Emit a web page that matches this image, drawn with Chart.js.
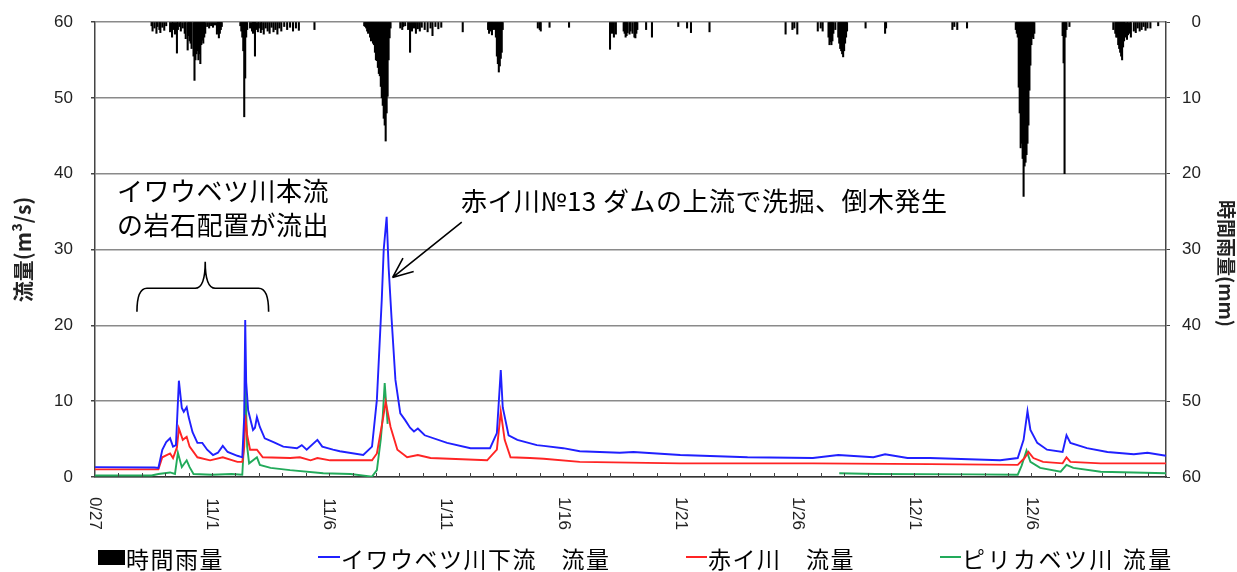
<!DOCTYPE html>
<html><head><meta charset="utf-8">
<script src="https://cdn.jsdelivr.net/npm/chart.js@4.4.1/dist/chart.umd.min.js"></script>
<style>
html,body{margin:0;padding:0;background:#fff;}
#wrap{position:relative;width:1237px;height:572px;overflow:hidden;font-family:"Noto Sans CJK JP","Noto Sans",sans-serif;color:#000;}
#c{position:absolute;left:0;top:0;}
.note{position:absolute;font-size:26px;line-height:34px;white-space:nowrap;letter-spacing:0.5px;}
.leg{position:absolute;top:543px;font-size:23px;line-height:30px;white-space:nowrap;letter-spacing:1.5px;}
.mk{position:absolute;}
</style></head>
<body>
<div id="wrap">
  <canvas id="c" width="1237" height="572"></canvas>
  <div class="note" style="left:117px;top:173px">イワウベツ川本流<br>の岩石配置が流出</div>
  <div class="note" style="left:461px;top:183px">赤イ川№13 ダムの上流で洗掘、倒木発生</div>
  <div class="mk" style="left:98px;top:550px;width:27px;height:15px;background:#000"></div>
  <div class="leg" style="left:126px">時間雨量</div>
  <div class="mk" style="left:318px;top:556px;width:22px;height:2px;background:#2020ff"></div>
  <div class="leg" style="left:341px">イワウベツ川下流　流量</div>
  <div class="mk" style="left:686px;top:556px;width:21px;height:2px;background:#ff2424"></div>
  <div class="leg" style="left:708px">赤イ川　流量</div>
  <div class="mk" style="left:940px;top:556px;width:21px;height:2px;background:#22aa5a"></div>
  <div class="leg" style="left:962px;letter-spacing:2.5px">ピリカベツ川 流量</div>
</div>
<script>
// time axis: hours since 10/27 0:00
const xMaxHour = 1098;
const labelHours = [0,120,240,360,480,600,720,840,960];
const xLabels = ['0/27','11/1','11/6','1/11','1/16','1/21','1/26','12/1','12/6'];

// イワウベツ川下流 流量 (m3/s)
const blueHours = [0,61,65,69,73,77,80,83,86,89,91,94,96,100,105,110,115,121,126,131,136,146,151,153,154,155,157,162,164,166,169,174,183,193,207,212,217,228,233,244,251,275,284,289,294,296,299,301,304,308,313,318,323,327,331,338,361,385,405,412,416,418,424,433,453,460,480,497,538,552,600,669,736,762,798,810,833,856,928,946,952,956,959,966,976,992,996,1000,1017,1038,1065,1079,1098];
const blueFlow  = [1.3,1.25,1.2,3.6,4.6,5.1,4.0,4.2,12.7,9.1,8.6,9.2,7.9,5.9,4.5,4.5,3.6,2.9,3.2,4.1,3.3,2.8,2.6,8.0,20.7,12.5,8.8,6.2,6.5,7.9,6.6,5.1,4.6,4.0,3.8,4.2,3.6,4.9,4.0,3.6,3.4,2.9,4.0,10.2,23.4,30.0,34.3,27.7,21.0,12.8,8.4,7.5,6.5,6.0,6.4,5.5,4.5,3.8,3.8,5.8,14.1,9.2,5.5,4.9,4.2,4.1,3.8,3.4,3.2,3.3,2.9,2.6,2.5,2.9,2.6,3.0,2.5,2.5,2.2,2.5,4.9,8.7,6.2,4.5,3.6,3.3,5.5,4.5,3.8,3.3,3.0,3.2,2.8];

// 赤イ川 流量
const redHours = [0,65,69,77,80,84,86,90,94,97,105,118,131,146,151,153,154,156,159,166,172,200,210,221,228,241,284,289,295,298,303,310,320,331,344,402,412,416,420,426,446,460,497,600,736,856,946,953,957,962,972,992,996,1000,1031,1098];
const redFlow  = [1.0,1.0,2.6,3.1,2.5,3.9,6.4,4.9,5.3,4.0,2.6,2.2,2.6,2.0,2.0,4.0,8.2,5.5,3.6,3.6,2.6,2.5,2.6,2.2,2.5,2.2,2.2,3.1,7.5,9.9,6.6,3.6,2.6,2.9,2.5,2.2,3.6,8.6,4.9,2.6,2.5,2.4,2.0,1.8,1.8,1.7,1.6,2.5,3.3,2.5,2.0,1.8,2.6,2.0,1.8,1.8];

// ピリカベツ川 流量 (null = no record)
const greenHours = [0,58,65,77,82,85,89,94,97,101,120,140,151,153,154,156,158,166,169,180,200,234,262,284,289,293,295,297,300,301,763,800,900,946,950,955,959,969,990,996,1003,1031,1098];
const greenFlow  = [0.2,0.2,0.4,0.6,0.4,3.2,1.3,2.2,1.3,0.4,0.3,0.4,0.3,5.0,13.2,4.0,1.8,2.6,1.6,1.2,0.9,0.5,0.4,0.05,0.9,5.0,8.0,12.4,7.0,null,0.5,0.4,0.35,0.3,1.5,3.5,2.0,1.2,0.7,1.6,1.2,0.7,0.5];

// 時間雨量 (mm)
const rainHours = [58,59,61,63,64,66,67,69,71,73,77,79,80,82,84,85,87,88,90,92,93,95,96,97,98,99,101,102,103,104,105,106,107,108,109,110,111,112,113,115,117,119,121,123,125,126,127,128,129,130,
  149,150,151,152,153,154,155,156,159,161,162,163,164,165,167,168,170,171,173,175,177,179,181,183,185,187,189,191,194,197,200,203,206,209,225,
  276,277,278,279,280,281,282,283,284,285,286,287,288,289,290,291,292,293,294,295,296,297,298,299,300,301,302,303,
  313,315,316,318,321,323,325,327,329,331,333,335,338,341,344,346,349,352,355,377,
  403,404,405,406,407,408,409,410,411,412,413,414,415,416,417,418,454,456,457,466,486,
  528,530,532,534,542,543,544,545,546,548,549,551,553,554,555,556,565,571,598,607,611,630,
  708,715,717,720,741,744,746,752,753,754,755,756,757,759,762,763,764,765,766,767,768,769,770,771,790,810,811,879,881,884,894,
  944,945,946,947,948,949,950,951,952,953,954,955,956,957,958,959,960,961,962,963,992,993,994,995,996,999,
  1044,1046,1047,1048,1049,1050,1051,1052,1053,1054,1055,1056,1058,1059,1061,1062,1065,1067,1069,1071,1073,1075,1077,1079,1082,1090];
const rainMm = [0.5,1.2,0.8,1.5,0.6,1.0,1.4,0.7,1.1,0.5,1.3,2.0,1.0,1.6,4.1,1.0,0.6,1.2,0.8,1.5,2.2,3.7,1.8,2.5,2.8,3.5,4.5,7.7,5.0,4.2,3.8,5.0,4.2,5.5,3.0,2.4,2.8,2.0,1.5,0.6,0.8,0.5,0.7,0.4,1.6,1.2,2.1,1.5,1.0,0.6,
  0.5,1.2,2.0,3.8,12.5,7.4,2.0,1.0,0.8,1.2,1.5,1.0,4.5,1.0,1.3,0.8,1.4,1.0,1.6,0.8,1.2,1.5,0.7,1.3,1.0,1.6,0.8,1.2,0.6,1.0,0.7,1.2,0.8,1.1,1.0,
  0.5,0.6,0.8,1.2,1.5,1.0,2.0,2.5,1.8,2.8,3.0,4.0,5.0,5.1,6.0,6.8,7.1,8.5,10.0,11.0,12.7,13.6,15.7,12.0,9.8,5.0,2.1,0.8,
  0.8,1.0,0.6,0.5,1.0,4.0,1.2,0.8,1.5,0.9,1.2,0.7,1.0,1.3,0.8,1.8,0.6,0.9,0.7,1.3,
  1.0,1.5,1.2,0.8,1.7,0.5,1.0,0.8,2.0,4.5,5.5,6.6,5.8,4.8,4.0,1.0,0.8,1.0,1.2,0.7,0.7,
  3.6,1.5,2.0,1.6,1.2,1.5,2.0,1.8,1.4,1.6,1.2,1.5,2.0,2.1,1.5,1.0,1.0,2.0,0.6,0.8,1.4,1.3,
  1.6,1.0,0.8,1.6,1.2,0.8,1.2,2.0,3.0,2.6,3.0,2.5,1.5,1.0,2.0,2.8,3.5,3.8,4.2,4.6,3.8,2.8,2.0,1.2,0.8,1.5,0.8,1.0,0.6,1.0,0.8,
  1.0,1.5,2.0,8.6,12.0,16.6,16.0,18.0,23.0,19.0,18.5,17.5,16.0,13.6,9.0,5.7,3.0,2.0,2.2,1.5,1.8,5.4,20.0,2.0,1.0,0.6,
  1.0,1.5,2.0,2.0,3.0,3.5,4.0,4.5,5.0,3.3,2.5,2.0,2.3,1.7,1.5,2.0,1.2,1.4,0.8,1.2,1.0,0.6,1.1,0.8,0.8,0.5];

// annotation anchors in data units (hour, m3/s)
const brace = {from:43, to:178, tip:113, low:21.8, mid:24.9, top:28.4};
const arrow = {fromH:376, fromV:33.6, toH:305, toV:26.3};

const pts = (xs,ys) => xs.map((x,i)=>({x, y:ys[i]}));
const tickFont = {family:'"Liberation Sans", Arial, sans-serif', size:17};
const noPad = s => { s.paddingTop = 0; s.paddingBottom = 0; };

const overlay = {
  id:'overlay',
  afterDraw(c){
    const xs=c.scales.x, ys=c.scales.y, ctx=c.ctx, bot=c.chartArea.bottom;
    ctx.save();
    // day ticks inside the axis
    ctx.strokeStyle='#444'; ctx.lineWidth=1;
    for(let h=24; h<xMaxHour; h+=24){ const p=Math.round(xs.getPixelForValue(h))+0.5; ctx.beginPath(); ctx.moveTo(p,bot); ctx.lineTo(p,bot-4); ctx.stroke(); }
    // rotated date labels
    ctx.font='17px "Liberation Sans", Arial, sans-serif'; ctx.fillStyle='#222'; ctx.textAlign='right'; ctx.textBaseline='middle';
    labelHours.forEach((h,i)=>{ ctx.save(); ctx.translate(xs.getPixelForValue(h), bot+53); ctx.rotate(Math.PI/2); ctx.fillText(xLabels[i],0,0); ctx.restore(); });
    // right axis title
    ctx.save(); ctx.font='bold 19px "Noto Sans CJK JP"'; ctx.textAlign='center'; ctx.textBaseline='middle';
    ctx.translate(1226, (c.chartArea.top+c.chartArea.bottom)/2+14); ctx.rotate(Math.PI/2); ctx.fillText('時間雨量(mm)',0,0); ctx.restore();
    // brace
    const X=v=>xs.getPixelForValue(v), Y=v=>ys.getPixelForValue(v);
    ctx.strokeStyle='#000'; ctx.lineWidth=1.6; ctx.beginPath();
    ctx.moveTo(X(brace.from),Y(brace.low));
    ctx.quadraticCurveTo(X(brace.from),Y(brace.mid),X(brace.from)+10,Y(brace.mid));
    ctx.lineTo(X(brace.tip)-10,Y(brace.mid));
    ctx.quadraticCurveTo(X(brace.tip),Y(brace.mid),X(brace.tip),Y(brace.top));
    ctx.quadraticCurveTo(X(brace.tip),Y(brace.mid),X(brace.tip)+10,Y(brace.mid));
    ctx.lineTo(X(brace.to)-10,Y(brace.mid));
    ctx.quadraticCurveTo(X(brace.to),Y(brace.mid),X(brace.to),Y(brace.low));
    ctx.stroke();
    // arrow
    const ax0=X(arrow.fromH), ay0=Y(arrow.fromV), ax1=X(arrow.toH), ay1=Y(arrow.toV);
    const ang=Math.atan2(ay1-ay0, ax1-ax0);
    ctx.beginPath(); ctx.moveTo(ax0,ay0); ctx.lineTo(ax1,ay1);
    [-0.4,0.4].forEach(d=>{ ctx.moveTo(ax1,ay1); ctx.lineTo(ax1-22*Math.cos(ang+d), ay1-22*Math.sin(ang+d)); });
    ctx.stroke();
    ctx.restore();
  }
};

new Chart(document.getElementById('c'), {
  data:{
    datasets:[
      {type:'line', label:'イワウベツ川下流 流量', data:pts(blueHours,blueFlow), borderColor:'#2020ff', borderWidth:1.9, pointRadius:0, tension:0, yAxisID:'y', order:1},
      {type:'line', label:'赤イ川 流量', data:pts(redHours,redFlow), borderColor:'#ff2424', borderWidth:1.9, pointRadius:0, tension:0, yAxisID:'y', order:2},
      {type:'line', label:'ピリカベツ川 流量', data:pts(greenHours,greenFlow), borderColor:'#22aa5a', borderWidth:1.9, pointRadius:0, tension:0, spanGaps:false, yAxisID:'y', order:3},
      {type:'bar', label:'時間雨量', data:pts(rainHours,rainMm), backgroundColor:'#000', barThickness:1.4, yAxisID:'y2', order:4}
    ]
  },
  options:{
    responsive:false, animation:false,
    layout:{padding:{top:22,left:0,right:36,bottom:0}},
    plugins:{legend:{display:false}, tooltip:{enabled:false}},
    scales:{
      x:{type:'linear', min:0, max:xMaxHour, offset:false, ticks:{display:false}, grid:{display:false, offset:false},
         border:{color:'#333', width:1.5}, afterFit(s){ s.height=95; }},
      y:{position:'left', min:0, max:60,
         ticks:{stepSize:10, font:tickFont, color:'#222', padding:18},
         grid:{color:'#8a8a8a', lineWidth:1.5, drawTicks:true, tickLength:4, tickColor:'#444'},
         border:{color:'#444', width:1.5},
         title:{display:true, text:'流量(m³/s)', font:{family:'"Noto Sans CJK JP"', size:21, weight:'bold'}, color:'#222', padding:{top:10,bottom:0}},
         afterFit(s){ s.width=95; noPad(s); }},
      y2:{position:'right', min:0, max:60, reverse:true,
         ticks:{stepSize:10, font:tickFont, color:'#222', crossAlign:'far'},
         grid:{drawOnChartArea:false, drawTicks:true, tickLength:4, tickColor:'#444'},
         border:{color:'#444', width:1.5},
         afterFit(s){ s.width=35; noPad(s); }}
    }
  },
  plugins:[overlay]
});
</script>
</body></html>
